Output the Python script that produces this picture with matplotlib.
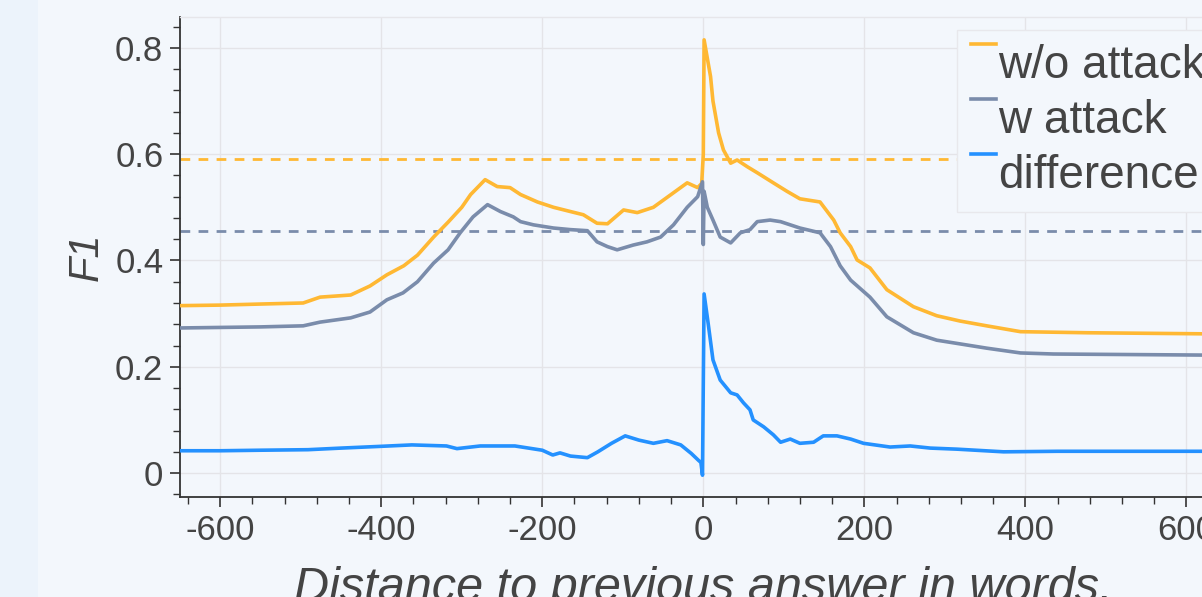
import matplotlib
matplotlib.use("Agg")
import matplotlib.pyplot as plt
from matplotlib.ticker import MultipleLocator, FuncFormatter
from matplotlib.legend_handler import HandlerLine2D
from matplotlib.patches import Rectangle

# ---------------- data ----------------
wo_x = [-650, -600, -550, -497, -476, -438, -414, -393, -372, -355, -335, -317, -300, -289,
        -271, -256, -240, -227, -206, -186, -165, -149, -132, -119, -99, -82, -62, -41,
        -20, -7, -2, 0, 1, 9, 12, 19, 25, 34, 42, 55, 67, 87, 104, 120, 145, 162, 170,
        183, 191, 207, 228, 261, 290, 319, 352, 394, 477, 620, 650]
wo_y = [0.315, 0.316, 0.318, 0.320, 0.331, 0.335, 0.352, 0.373, 0.390, 0.410, 0.444, 0.472, 0.500, 0.524,
        0.552, 0.539, 0.537, 0.524, 0.510, 0.500, 0.492, 0.486, 0.470, 0.469, 0.495, 0.490, 0.500, 0.523,
        0.546, 0.537, 0.545, 0.600, 0.815, 0.746, 0.700, 0.640, 0.608, 0.583, 0.589, 0.576, 0.565, 0.546, 0.530, 0.516, 0.510, 0.476, 0.452,
        0.426, 0.401, 0.386, 0.345, 0.313, 0.296, 0.286, 0.277, 0.266, 0.264, 0.262, 0.261]

w_x = [-650, -600, -550, -497, -476, -438, -414, -393, -373, -355, -335, -317, -302, -286,
       -268, -252, -236, -227, -211, -186, -165, -144, -132, -119, -107, -87, -70, -53,
       -37, -20, -7, -1, 0, 1, 5, 12, 21, 34, 46, 58, 67, 83, 96, 108, 120, 145, 158,
       170, 183, 207, 228, 261, 290, 319, 352, 394, 435, 620, 650]
w_y = [0.273, 0.274, 0.275, 0.277, 0.284, 0.292, 0.303, 0.326, 0.339, 0.360, 0.395, 0.420, 0.452, 0.482,
       0.505, 0.492, 0.482, 0.473, 0.467, 0.461, 0.458, 0.456, 0.435, 0.426, 0.420, 0.429, 0.435, 0.444,
       0.467, 0.500, 0.520, 0.548, 0.430, 0.530, 0.500, 0.476, 0.444, 0.433, 0.452, 0.458, 0.473, 0.476, 0.473, 0.467, 0.461, 0.452, 0.426,
       0.390, 0.363, 0.331, 0.294, 0.264, 0.250, 0.243, 0.235, 0.226, 0.224, 0.222, 0.222]

diff_x = [-650, -600, -550, -491, -450, -405, -362, -319, -306, -277, -234, -200, -187, -178,
          -165, -144, -131, -114, -97, -80, -62, -45, -28, -15, -6, -3, -1, 0, 1, 6, 12,
          21, 34, 42, 50, 58, 62, 75, 87, 96, 108, 120, 137, 149, 166, 183, 199, 232,
          257, 282, 315, 373, 440, 650]
diff_y = [0.042, 0.042, 0.043, 0.044, 0.047, 0.050, 0.053, 0.051, 0.046, 0.051, 0.051, 0.043, 0.034, 0.038,
          0.032, 0.029, 0.040, 0.056, 0.070, 0.062, 0.056, 0.061, 0.053, 0.037, 0.024, 0.020, -0.004, 0.170, 0.337, 0.282, 0.213,
          0.175, 0.151, 0.147, 0.132, 0.119, 0.100, 0.087, 0.072, 0.058, 0.064, 0.056, 0.058, 0.070, 0.070, 0.064, 0.056, 0.049,
          0.051, 0.047, 0.045, 0.040, 0.041, 0.041]

wo_mean = 0.590
w_mean = 0.455

labels = ["w/o attack", "w attack", "difference"]
colors = ["#ffb833", "#7a8cab", "#2491ff"]

x_ticks = [-600, -400, -200, 0, 200, 400, 600]
y_ticks = [0, 0.2, 0.4, 0.6, 0.8]

# ---------------- style ----------------
plt.rcParams["font.family"] = ["Liberation Sans", "DejaVu Sans"]
plt.rcParams["axes.unicode_minus"] = False
text_color = "#444444"
bg = "#f3f7fc"

fig = plt.figure(figsize=(12.02, 5.97), dpi=100, facecolor=bg)
fig.patches.append(Rectangle((0, 0), 38 / 1202, 1, transform=fig.transFigure,
                             facecolor="#ecf3fb", edgecolor="none", zorder=-1))

ax = fig.add_axes([180 / 1202, 1 - 497 / 597, 1046.6 / 1202, 480 / 597])
ax.set_facecolor(bg)

ax.plot(wo_x, wo_y, color=colors[0], lw=2.6, label=labels[0], zorder=3)
ax.plot(w_x, w_y, color=colors[1], lw=2.6, label=labels[1], zorder=3)
ax.plot(diff_x, diff_y, color=colors[2], lw=2.6, label=labels[2], zorder=3)
ax.axhline(wo_mean, color=colors[0], lw=2.0, ls=(0, (3.5, 3)), zorder=2)
ax.axhline(w_mean, color=colors[1], lw=2.0, ls=(0, (3.5, 3)), zorder=2)

ax.set_xlim(-650, 650)
ax.set_ylim(-0.045, 0.858)
ax.set_xticks(x_ticks)
ax.set_yticks(y_ticks)
ax.xaxis.set_minor_locator(MultipleLocator(40))
ax.yaxis.set_minor_locator(MultipleLocator(0.04))
ax.yaxis.set_major_formatter(FuncFormatter(lambda v, p: "0" if abs(v) < 1e-9 else f"{v:.1f}"))
ax.xaxis.set_major_formatter(FuncFormatter(lambda v, p: f"{int(round(v))}"))

ax.grid(True, which="major", color="#e4e4e8", lw=1.0, zorder=0)
ax.spines["right"].set_visible(False)
ax.spines["top"].set_color("#e6e6ea")
ax.spines["top"].set_linewidth(1.0)
for s in ["left", "bottom"]:
    ax.spines[s].set_color("#333333")
    ax.spines[s].set_linewidth(1.3)

ax.tick_params(which="major", direction="out", length=7, width=1.2, color="#333333",
               labelsize=25, labelcolor=text_color, pad=5)
ax.tick_params(which="minor", direction="out", length=5, width=1.0, color="#333333")

ax.set_xlabel("Distance to previous answer in words.", fontsize=35, style="italic",
              color=text_color, labelpad=14)
ax.set_ylabel("F1", fontsize=30, style="italic", color=text_color, labelpad=6)


class TopLine(HandlerLine2D):
    def create_artists(self, legend, orig_handle, xdescent, ydescent, width, height, fontsize, trans):
        arts = super().create_artists(legend, orig_handle, xdescent, ydescent, width, height, fontsize, trans)
        for a in arts:
            yd = a.get_ydata()
            a.set_ydata([height * 1.05 - ydescent] * len(yd))
        return arts


leg = ax.legend(loc="upper left", bbox_to_anchor=(957 / 1202, 1 - 30 / 597),
                bbox_transform=fig.transFigure, fontsize=33, frameon=True, fancybox=False,
                handlelength=0.55, handletextpad=0.05, labelspacing=0.24, borderpad=0.3,
                borderaxespad=0, handler_map={plt.Line2D: TopLine()})
leg.get_frame().set_facecolor(bg)
leg.get_frame().set_edgecolor("#e8e8ec")
leg.get_frame().set_linewidth(1.0)
leg.get_frame().set_alpha(1.0)
for t in leg.get_texts():
    t.set_color(text_color)
for h in leg.legend_handles:
    h.set_linewidth(2.6)

fig.savefig("out.png", dpi=100, facecolor=bg)
